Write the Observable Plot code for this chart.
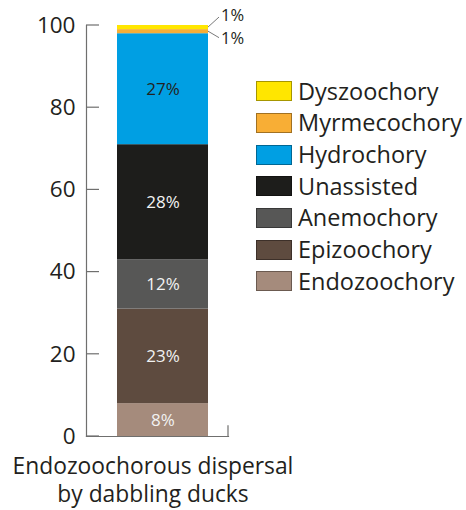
<!DOCTYPE html>
<html><head><meta charset="utf-8">
<script src="https://cdn.jsdelivr.net/npm/d3@7"></script>
<script src="https://cdn.jsdelivr.net/npm/@observablehq/plot@0.6"></script>
<style>
body{margin:0;background:#fff;font-family:"Open Sans",sans-serif;color:#231f20}
#wrap{position:relative;width:466px;height:510px}
#legend{position:absolute;left:256px;top:75.5px}
.row{display:flex;align-items:center;height:31.7px}
.sw{width:34px;height:18px;border:1px solid rgba(0,0,0,0.35);margin-right:6px}
.lab{font-size:23.5px;line-height:1;white-space:nowrap}
#xlab{position:absolute;left:0;width:306px;top:451.5px;text-align:center;font-size:22.8px;line-height:28.5px;white-space:nowrap}
</style></head>
<body><div id="wrap"><div id="chart"></div><div id="legend"></div><div id="xlab"></div></div>
<script>
const category = "Endozoochorous dispersal by dabbling ducks";
const xLabelLines = ["Endozoochorous dispersal", "by dabbling ducks"];
const groups = ["Endozoochory","Epizoochory","Anemochory","Unassisted","Hydrochory","Myrmecochory","Dyszoochory"];
const values = [8, 23, 12, 28, 27, 1, 1];
const colors = ["#a58b7c","#5e4b3f","#575756","#1d1d1b","#009fe3","#f8ae35","#ffe600"];
const labelColors = ["#f2f2f2","#f2f2f2","#f2f2f2","#f2f2f2","#231f20","#231f20","#231f20"];
const yTicks = [0, 20, 40, 60, 80, 100];

let acc = 0;
const data = groups.map((g, i) => {
  const d = {category, group: g, value: values[i], y1: acc, y2: acc + values[i], mid: acc + values[i]/2, lc: labelColors[i]};
  acc += values[i];
  return d;
});
const inside = data.filter(d => d.value >= 5);
const outside = data.filter(d => d.value < 5);

const axisColor = "#6f6f6e";
const chart = Plot.plot({
  width: 466, height: 510,
  marginLeft: 86, marginRight: 238, marginTop: 25, marginBottom: 74,
  style: {fontFamily: "Open Sans, sans-serif", color: "#231f20", overflow: "visible"},
  x: {domain: [category], range: [117, 208], padding: 0, axis: null},
  y: {domain: [0, 100], axis: null},
  color: {domain: groups, range: colors},
  marks: [
    Plot.barY(data, {x: "category", y1: "y1", y2: "y2", fill: "group"}),
    Plot.text(inside, {x: "category", y: "mid", text: d => d.value + "%", fill: "lc", fontSize: 17}),
    Plot.frame({anchor: "left", stroke: axisColor, strokeWidth: 1.2}),
    Plot.frame({anchor: "bottom", stroke: axisColor, strokeWidth: 1.2}),
    Plot.axisY({ticks: yTicks, tickSize: 0, tickPadding: 11, fontSize: 22.5, tickFormat: d => d, label: null, fill: "#231f20"})
  ]
});
document.getElementById("chart").appendChild(chart);

// extra decorations computed from the plot's scales
const xs = chart.scale("x"), ys = chart.scale("y");
const svg = d3.select(chart);
const left = 86, right = 466 - 238;
yTicks.forEach(t => {
  svg.append("line").attr("x1", left).attr("x2", left + 13)
    .attr("y1", ys.apply(t)).attr("y2", ys.apply(t))
    .attr("stroke", axisColor).attr("stroke-width", 1.2);
});
svg.append("line").attr("x1", right).attr("x2", right)
  .attr("y1", ys.apply(0)).attr("y2", ys.apply(2.6))
  .attr("stroke", axisColor).attr("stroke-width", 1.2);
const barRight = xs.apply(category) + xs.bandwidth;
const offsets = {"Dyszoochory": -10, "Myrmecochory": 6.5};
const textShift = {"Dyszoochory": -2, "Myrmecochory": 1};
outside.forEach(d => {
  const y0 = ys.apply(d.mid);
  const y1 = y0 + offsets[d.group];
  svg.append("line").attr("x1", barRight).attr("y1", y0).attr("x2", barRight + 11).attr("y2", y1)
    .attr("stroke", "#7a7a7a").attr("stroke-width", 1);
  svg.append("text").attr("x", barRight + 13).attr("y", y1 + textShift[d.group]).attr("dy", "0.35em")
    .attr("text-anchor", "start")
    .style("font-size", "16.5px").style("font-family", "Open Sans, sans-serif").attr("fill", "#231f20")
    .text(d.value + "%");
});

const legend = document.getElementById("legend");
groups.slice().reverse().forEach((g) => {
  const i = groups.indexOf(g);
  const row = document.createElement("div"); row.className = "row";
  row.innerHTML = `<div class="sw" style="background:${colors[i]}"></div><div class="lab">${g}</div>`;
  legend.appendChild(row);
});
document.getElementById("xlab").innerHTML = xLabelLines.join("<br>");
</script></body></html>
